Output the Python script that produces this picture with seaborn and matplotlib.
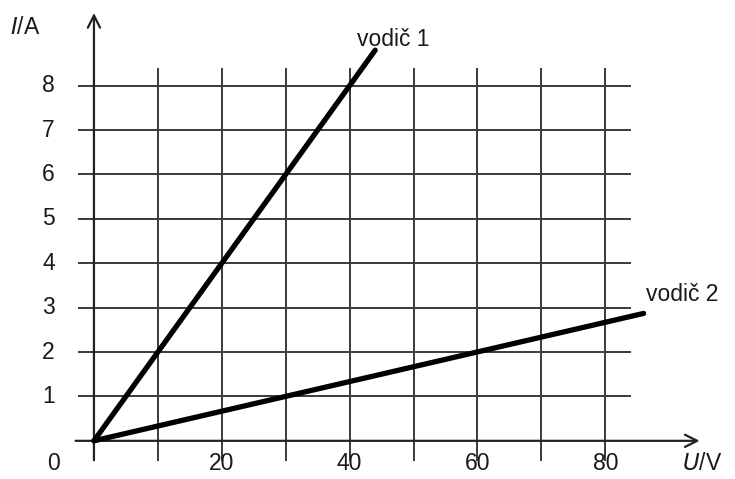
import numpy as np
import pandas as pd
import matplotlib
matplotlib.use("Agg")
import matplotlib.pyplot as plt
import seaborn as sns

# grid / tick values
x_grid = [10, 20, 30, 40, 50, 60, 70, 80]
y_grid = [1, 2, 3, 4, 5, 6, 7, 8]
x_labels = [20, 40, 60, 80]
y_labels = [1, 2, 3, 4, 5, 6, 7, 8]

# the two conductors (U in V, I in A)
u1 = [0, 44]
i1 = [0, 8.8]
u2 = [0, 86]
i2 = [0, 2.87]

sns.set_style("white")
plt.rcParams['font.family'] = ['Liberation Sans', 'DejaVu Sans']

fig = plt.figure(figsize=(7.35, 4.79), dpi=100)
ax = fig.add_axes([0, 0, 1, 1])
ax.set_xlim(-14.7, 100.3)
ax.set_ylim(-0.86, 9.93)
ax.axis("off")

grid_col = "#3a3a3a"
# grid
ax.vlines(x_grid, -0.45, 8.4, color=grid_col, lw=1.4, zorder=1)
ax.hlines(y_grid, -2.5, 84, color=grid_col, lw=1.4, zorder=1)

# axes with arrows
ax.annotate("", xy=(0, 9.7), xytext=(0, -0.5),
            arrowprops=dict(arrowstyle="->", color="#222222", lw=1.6,
                            mutation_scale=22), zorder=2)
ax.annotate("", xy=(95.2, 0), xytext=(-3.3, 0),
            arrowprops=dict(arrowstyle="->", color="#222222", lw=1.6,
                            mutation_scale=22), zorder=2)

df = pd.concat([
    pd.DataFrame({"U": u1, "I": i1, "vodic": "vodič 1"}),
    pd.DataFrame({"U": u2, "I": i2, "vodic": "vodič 2"}),
])
sns.lineplot(data=df, x="U", y="I", units="vodic", estimator=None,
             color="black", lw=3.8, ax=ax, zorder=3)

txt = "#1a1a1a"
fs = 16.5
for v in y_labels:
    ax.text(-6.1, v, str(v), ha="right", va="center", fontsize=fs, color=txt)
for v in x_labels:
    ax.text(v, -0.52, str(v), ha="center", va="center", fontsize=fs, color=txt)
ax.text(-6.4, -0.52, "0", ha="center", va="center", fontsize=fs, color=txt)

ax.text(-13.2, 9.3, "$\\it{I}$/A", ha="left", va="center", fontsize=fs, color=txt)
ax.text(92.0, -0.52, "$\\it{U}$/V", ha="left", va="center", fontsize=fs, color=txt)

ax.text(41.2, 9.05, "vodič 1", ha="left", va="center", fontsize=fs, color=txt)
ax.text(86.4, 3.3, "vodič 2", ha="left", va="center", fontsize=fs, color=txt)

fig.savefig("out.png", dpi=100)
